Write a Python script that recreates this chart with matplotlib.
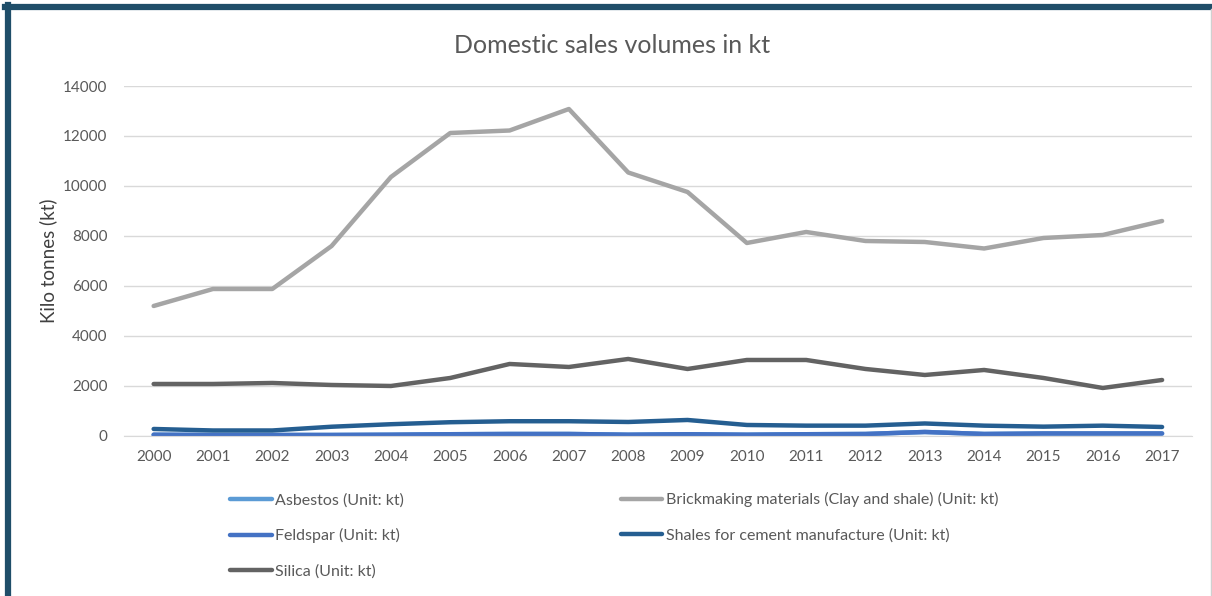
import matplotlib.pyplot as plt
from matplotlib.lines import Line2D

plt.rcParams['font.family'] = ['Lato', 'DejaVu Sans']

years = [str(y) for y in range(2000, 2018)]
asbestos = [50, 40, 40, 40, 50, 70, 80, 80, 50, 70, 50, 70, 80, 160, 80, 100, 100, 100]
brickmaking = [5200, 5880, 5880, 7600, 10360, 12120, 12220, 13080, 10540, 9760,
               7720, 8160, 7800, 7760, 7500, 7920, 8040, 8600]
feldspar = [50, 40, 40, 40, 50, 70, 80, 80, 50, 70, 50, 70, 80, 160, 80, 100, 100, 100]
shales = [280, 220, 220, 370, 470, 550, 590, 590, 560, 640,
          440, 413, 413, 500, 413, 373, 413, 360]
silica = [2080, 2080, 2120, 2040, 2000, 2320, 2880, 2760, 3080, 2680,
          3040, 3040, 2680, 2440, 2640, 2320, 1920, 2240]

names = ['Asbestos (Unit: kt)', 'Brickmaking materials (Clay and shale) (Unit: kt)',
         'Feldspar (Unit: kt)', 'Shales for cement manufacture (Unit: kt)', 'Silica (Unit: kt)']
colors = ['#5B9BD5', '#A5A5A5', '#4472C4', '#255E91', '#636363']
series = [asbestos, brickmaking, feldspar, shales, silica]

fig = plt.figure(figsize=(12.12, 5.96), dpi=100)
ax = fig.add_axes([0.1023, 0.2685, 0.881, 0.5872])

lines = []
for vals, name, c in zip(series, names, colors):
    ln, = ax.plot(range(len(years)), vals, color=c, lw=3.2, label=name,
                  solid_capstyle='round', solid_joinstyle='round')
    lines.append(ln)

ax.set_xlim(-0.5, len(years) - 0.5)
ax.set_ylim(0, 14000)
ax.set_yticks(range(0, 14001, 2000))
ax.set_xticks(range(len(years)))
ax.set_xticklabels(years)
ax.tick_params(length=0, labelsize=11, labelcolor='#595959')
ax.tick_params(axis='y', pad=12)
ax.tick_params(axis='x', pad=10)
ax.grid(axis='y', color='#D9D9D9', lw=1)
ax.set_axisbelow(True)
for s in ['top', 'right', 'left']:
    ax.spines[s].set_visible(False)
ax.spines['bottom'].set_color('#D9D9D9')

ax.set_ylabel('Kilo tonnes (kt)', fontsize=13.5, color='#404040', labelpad=4)
fig.text(0.505, 0.923, 'Domestic sales volumes in kt', ha='center', va='center',
         fontsize=18, color='#595959')

order = [0, 2, 4, 1, 3]
fig.legend([lines[i] for i in order], [names[i] for i in order], ncol=2,
           loc='upper left', bbox_to_anchor=(0.178, 0.198), frameon=False,
           fontsize=11.5, labelcolor='#595959', handlelength=2.6,
           handletextpad=0.2, columnspacing=13.6, labelspacing=1.3)

# frame around the chart
fig.add_artist(Line2D([0.0066, 0.0066], [0, 0.992], transform=fig.transFigure,
                      color='#1F4E69', lw=4.5))
fig.add_artist(Line2D([0.0045, 1.0], [0.9885, 0.9885], transform=fig.transFigure,
                      color='#1F4E69', lw=4.5))
fig.add_artist(Line2D([0.999, 0.999], [0, 0.985], transform=fig.transFigure,
                      color='#D0D0D0', lw=1))

fig.savefig('out.png', dpi=100)
